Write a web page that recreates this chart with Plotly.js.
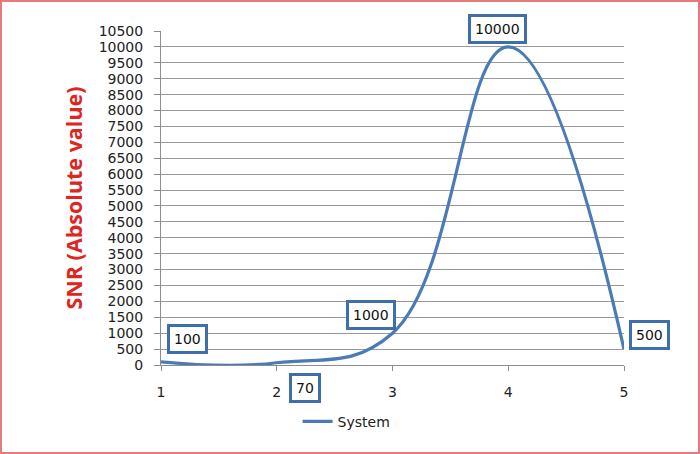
<!DOCTYPE html>
<html>
<head>
<meta charset="utf-8">
<script src="https://cdn.plot.ly/plotly-3.0.1.min.js"></script>
<style>
  html, body { margin: 0; padding: 0; background: #ffffff; }
  #wrap { position: relative; width: 700px; height: 454px; box-sizing: border-box; border: 2px solid #e77a7a; background: #fff; }
  #chart { position: absolute; left: 0; top: 0; width: 696px; height: 450px; }
</style>
</head>
<body>
<div id="wrap"><div id="chart"></div></div>
<script>
// Data
const xValues = [1, 2, 3, 4, 5];
const snrValues = [100, 70, 1000, 10000, 500];
const seriesName = 'System';
const yTitle = 'SNR (Absolute value)';
// Data-label offsets (pixels, style only)
const labelShiftX = [26, 28, -22, -11, 25];
const labelShiftY = [23, -25, 18, 18, 14];

const lineColor = '#4a7bb7';
const boxColor = '#3f6ead';
const fontFam = 'DejaVu Sans';

const trace = {
  x: xValues,
  y: snrValues,
  type: 'scatter',
  mode: 'lines',
  name: seriesName,
  line: { color: lineColor, width: 3.2, shape: 'spline', smoothing: 1.2 },
  showlegend: true
};

const annotations = xValues.map((xv, i) => ({
  x: xv, y: snrValues[i], xref: 'x', yref: 'y',
  text: String(snrValues[i]),
  showarrow: false,
  xanchor: 'center', yanchor: 'middle',
  xshift: labelShiftX[i], yshift: labelShiftY[i],
  font: { family: fontFam, size: 14, color: '#111' },
  bgcolor: '#ffffff', bordercolor: boxColor, borderwidth: 3, borderpad: 4
}));

const layout = {
  width: 696, height: 450,
  margin: { l: 159, r: 74, t: 29, b: 87 },
  paper_bgcolor: '#ffffff', plot_bgcolor: '#ffffff',
  font: { family: fontFam, size: 14, color: '#222' },
  xaxis: {
    range: [1, 5], tickmode: 'linear', tick0: 1, dtick: 1,
    showgrid: false, zeroline: false,
    showline: true, linecolor: '#8c8c8c', linewidth: 1,
    ticks: 'outside', ticklen: 5, tickcolor: '#8c8c8c',
    ticklabelstandoff: 9,
    tickfont: { family: fontFam, size: 14, color: '#222' },
    fixedrange: true
  },
  yaxis: {
    range: [0, 10500], tickmode: 'linear', tick0: 0, dtick: 500,
    tickformat: 'd',
    showgrid: true, gridcolor: '#9a9a9a', gridwidth: 1,
    zeroline: false,
    showline: true, linecolor: '#8c8c8c', linewidth: 1,
    ticks: 'outside', ticklen: 6, tickcolor: '#8c8c8c',
    ticklabelstandoff: 8,
    tickfont: { family: fontFam, size: 14, color: '#222' },
    title: { text: yTitle, font: { family: 'Open Sans', size: 21.5, color: '#e0251f', weight: 'bold' }, standoff: 10 },
    fixedrange: true
  },
  legend: {
    orientation: 'h', x: 0.295, xanchor: 'left', y: -0.17, yanchor: 'middle',
    font: { family: fontFam, size: 14, color: '#222' },
    bgcolor: 'rgba(0,0,0,0)'
  },
  annotations: annotations
};

Plotly.newPlot('chart', [trace], layout, { displayModeBar: false, staticPlot: true });
</script>
</body>
</html>
